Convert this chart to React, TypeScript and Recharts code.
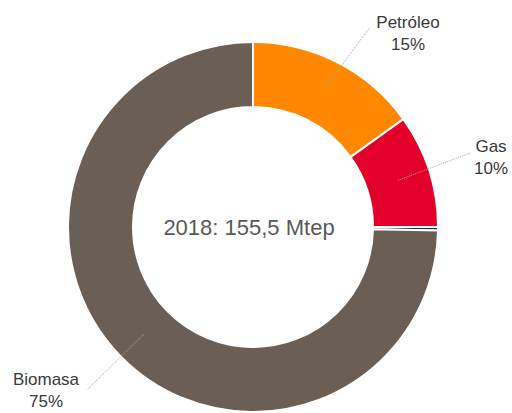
import { Cell, Pie, PieChart } from "recharts";

const sources = ["Petróleo", "Gas", "Carbón", "Biomasa"];
const shares = [15.1, 9.9, 0.3, 74.7];
const colors = ["#FF8800", "#E3002B", "#1E2B45", "#6B5E54"];
const hiddenLabels = ["Carbón"];

const data = sources.map((name, i) => ({ name, value: shares[i] }));

// where each callout line ends / text sits, relative to the pie centre
const callouts: Record<string, { ex: number; ey: number; tx: number; ty: number }> = {
  Petróleo: { ex: 117, ey: -200, tx: 155, ty: -199 },
  Gas: { ex: 217, ey: -74, tx: 238, ty: -75 },
  Biomasa: { ex: -166, ey: 163, tx: -207, ty: 158 },
};

const RAD = Math.PI / 180;

function renderLabel(props: any) {
  const { cx, cy, midAngle, innerRadius, outerRadius, name, value } = props;
  if (hiddenLabels.includes(name)) return null;
  const c = callouts[name];
  if (!c) return null;
  const r = (innerRadius + outerRadius) / 2;
  const sx = cx + r * Math.cos(-midAngle * RAD);
  const sy = cy + r * Math.sin(-midAngle * RAD);
  return (
    <g>
      <line
        x1={sx}
        y1={sy}
        x2={cx + c.ex}
        y2={cy + c.ey}
        stroke="#A6A6A6"
        strokeWidth={1}
        strokeDasharray="1 1"
      />
      <text
        x={cx + c.tx}
        y={cy + c.ty}
        textAnchor="middle"
        fill="#3A3A3A"
        fontSize={17}
        fontFamily="'Liberation Sans', Arial, sans-serif"
      >
        <tspan x={cx + c.tx} dy={0}>{name}</tspan>
        <tspan x={cx + c.tx} dy={22}>{Math.round(value)}%</tspan>
      </text>
    </g>
  );
}

export default function App() {
  return (
    <div style={{ position: "absolute", left: 0, top: 0, width: 512, height: 413, background: "#fff" }}>
      <PieChart width={512} height={413} margin={{ top: 0, right: 0, bottom: 0, left: 0 }}>
        <Pie
          data={data}
          dataKey="value"
          nameKey="name"
          cx={253}
          cy={227}
          innerRadius={120}
          outerRadius={185}
          startAngle={90}
          endAngle={-270}
          stroke="#FFFFFF"
          strokeWidth={2}
          label={renderLabel}
          labelLine={false}
          isAnimationActive={false}
        >
          {data.map((d, i) => (
            <Cell key={d.name} fill={colors[i]} />
          ))}
        </Pie>
        <text
          x={249}
          y={235}
          textAnchor="middle"
          fill="#595959"
          fontSize={22}
          fontFamily="'Liberation Sans', Arial, sans-serif"
        >
          2018: 155,5 Mtep
        </text>
      </PieChart>
    </div>
  );
}
